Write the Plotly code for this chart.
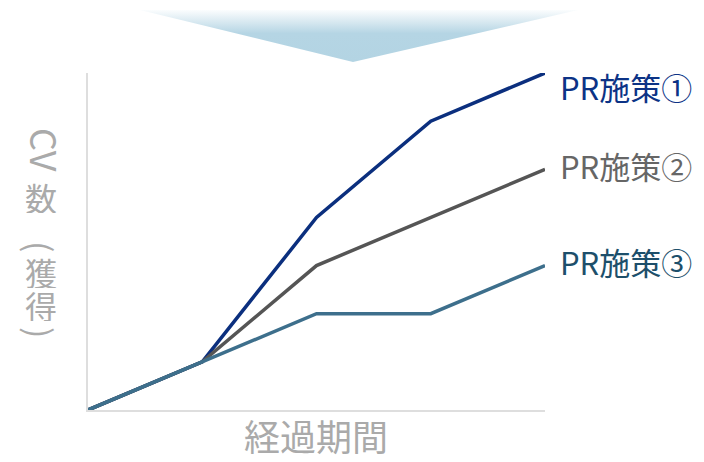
import plotly.graph_objects as go

W, H = 704, 462

# data
periods = [0, 1, 2, 3, 4]
series_names = ["PR施策①", "PR施策②", "PR施策③"]
series_values = [
    [0, 1, 4, 6, 7],
    [0, 1, 3, 4, 5],
    [0, 1, 2, 2, 3],
]
line_colors = ["#0b2f7e", "#555555", "#3d6f8c"]
label_colors = ["#0c3386", "#666666", "#1d4f6b"]
label_shifts = [-13, 4, 4]
x_title = "経過期間"
y_title_latin = "CV"
y_title_cjk = ["数", "獲", "得"]
y_title_paren = ["(", ")"]

# plot area in pixels
L, R, T, B = 88, 545, 73, 410

fig = go.Figure()

# decorative down-arrow triangle (pixel coords on a full-page helper subplot)
tri_x = [140, 578, 353, 140]
tri_y = [H - 10, H - 10, H - 62, H - 10]
fig.add_trace(go.Scatter(
    x=tri_x, y=tri_y, xaxis="x2", yaxis="y2", mode="lines",
    line=dict(width=0), fill="toself", hoverinfo="skip", showlegend=False,
    fillgradient=dict(type="vertical", start=H - 62, stop=H - 10,
                      colorscale=[[0, "#b3d4e3"], [0.55, "#b5d5e4"],
                                  [0.8, "#dcebf2"], [1, "#fbfdfe"]]),
))

for name, vals, col in zip(series_names, series_values, line_colors):
    fig.add_trace(go.Scatter(
        x=periods, y=vals, mode="lines", name=name,
        line=dict(color=col, width=3.5), cliponaxis=False, showlegend=False,
    ))

annotations = []
font = "Noto Sans CJK JP"
grey = "#aaaaaa"
for name, vals, col, sh in zip(series_names, series_values, label_colors, label_shifts):
    annotations.append(dict(
        x=periods[-1], y=vals[-1], xref="x", yref="y", text=name,
        showarrow=False, xanchor="left", yanchor="middle", xshift=13, yshift=sh,
        font=dict(family=font, size=31, color=col),
    ))

annotations.append(dict(
    x=316, y=H - 435, xref="x2", yref="y2", text=x_title, showarrow=False,
    xanchor="center", yanchor="middle", height=44, valign="middle", borderpad=0,
    font=dict(family=font, size=36, color=grey),
))
annotations.append(dict(
    x=46, y=H - 150, xref="x2", yref="y2", text=y_title_latin, showarrow=False,
    textangle=90, xanchor="center", yanchor="middle",
    font=dict(family=font, size=36, color=grey),
))
cjk_y = [197, 271.5, 305]
for ch, yy in zip(y_title_cjk, cjk_y):
    annotations.append(dict(
        x=41, y=H - yy, xref="x2", yref="y2", text=ch, showarrow=False,
        xanchor="center", yanchor="middle", height=32, valign="middle", borderpad=0,
        font=dict(family=font, size=32, color=grey),
    ))
paren_y = [247, 333]
for ch, yy in zip(y_title_paren, paren_y):
    annotations.append(dict(
        x=41, y=H - yy, xref="x2", yref="y2", text=ch, showarrow=False,
        textangle=90, xanchor="center", yanchor="middle",
        font=dict(family=font, size=34, color=grey),
    ))

fig.update_layout(
    width=W, height=H, margin=dict(l=0, r=0, t=0, b=0),
    paper_bgcolor="white", plot_bgcolor="rgba(0,0,0,0)",
    xaxis=dict(domain=[L / W, R / W], range=[0, 4], showgrid=False, zeroline=False,
               showticklabels=False, ticks="", showline=True, linecolor="#dedede",
               linewidth=2, anchor="y"),
    yaxis=dict(domain=[(H - B) / H, (H - T) / H], range=[0, 7], showgrid=False,
               zeroline=False, showticklabels=False, ticks="", showline=True,
               linecolor="#dedede", linewidth=2, anchor="x"),
    xaxis2=dict(domain=[0, 1], range=[0, W], visible=False, anchor="y2"),
    yaxis2=dict(domain=[0, 1], range=[0, H], visible=False, anchor="x2"),
    annotations=annotations,
)

fig.write_html("out.html")
